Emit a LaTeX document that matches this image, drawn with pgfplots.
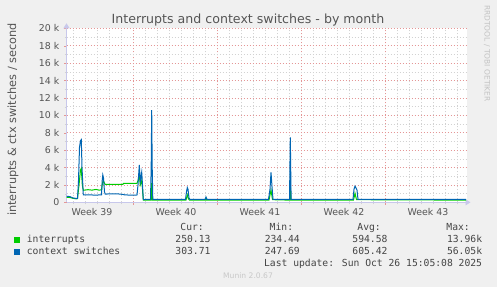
\documentclass[border=0pt]{standalone}
\usepackage{fontspec}
\setmainfont{DejaVu Sans}
\newfontfamily\monofont{DejaVu Sans Mono}
\usepackage{pgfplots}
\pgfplotsset{compat=1.18}
\usetikzlibrary{arrows.meta}
\definecolor{bgcol}{HTML}{F0F0F0}
\definecolor{txtcol}{HTML}{555555}
\definecolor{legcol}{HTML}{444444}
\definecolor{majcol}{RGB}{228,150,150}
\definecolor{mincol}{RGB}{210,210,210}
\definecolor{axiscol}{RGB}{200,200,235}
\definecolor{intcol}{HTML}{00CC00}
\definecolor{ctxcol}{HTML}{0066B3}
\begin{document}
\begin{tikzpicture}[x=1pt,y=1pt]
\fill[bgcol] (0,0) rectangle (497,287);
\useasboundingbox (0,0) rectangle (497,287);
\begin{axis}[
  at={(66.5pt,84.7pt)}, anchor=south west,
  scale only axis, width=400pt, height=174pt,
  xmin=0, xmax=33.333, ymin=0, ymax=20000,
  scaled y ticks=false,
  axis background/.style={fill=white},
  axis x line=bottom, axis y line=left,
  axis line style={draw=axiscol, line width=0.8pt},
  x axis line style={-{Triangle[length=5pt,width=6pt]}, shorten >=-4pt},
  y axis line style={-{Triangle[length=5pt,width=6pt]}, shorten >=-5pt},
  xtick={5.542,12.542,19.542,26.542},
  xticklabels={,,,},
  minor xtick={0.542,1.542,...,32.6},
  extra x ticks={2.125,9.125,16.125,23.125,30.125},
  extra x tick labels={Week 39,Week 40,Week 41,Week 42,Week 43},
  extra x tick style={grid=none, major tick length=0pt,
     xticklabel style={anchor=base, yshift=-13.5pt}},
  ytick={0,2000,...,20000},
  yticklabels={0,2 k,4 k,6 k,8 k,10 k,12 k,14 k,16 k,18 k,20 k},
  minor ytick={1000,3000,...,19000},
  grid=both,
  major grid style={draw=majcol, dash pattern=on 1pt off 2pt, line width=0.6pt},
  minor grid style={draw=mincol, dash pattern=on 1pt off 2pt, line width=0.6pt},
  tick align=outside,
  major tick length=2.5pt, minor tick length=2pt,
  every major tick/.append style={draw=majcol},
  every minor tick/.append style={draw=mincol},
  ticklabel style={font=\fontsize{9.4}{11}\selectfont, text=txtcol},
  yticklabel style={inner sep=0pt, anchor=east, xshift=-4.5pt},
  xticklabel style={inner sep=0pt},
]
\addplot[intcol, line width=1pt] coordinates {
(0,580) (0.292,550) (0.542,460) (0.792,400) (0.917,420) (1.042,2000) (1.167,3700) (1.233,3900) (1.317,2000) (1.4,1380)
(1.792,1450) (2.125,1400) (2.458,1480) (2.708,1400) (2.917,1430) (3.0,2200) (3.067,2560) (3.125,2300) (3.208,2070)
(4.708,2070) (4.75,2180) (5.875,2180) (5.958,2500) (6.067,3100) (6.15,2000) (6.267,2500) (6.333,1500) (6.4,250)
(7.042,250) (7.1,2200) (7.158,250) (9.958,250) (10.067,850) (10.167,400) (10.25,250)
(11.583,250) (11.625,450) (11.667,250) (16.875,250) (17.042,1400) (17.167,300)
(18.6,250) (18.65,2370) (18.7,250) (23.917,250) (24.042,1030) (24.167,300) (33.292,250)
};
\addplot[ctxcol, line width=1pt] coordinates {
(0,700) (0.292,650) (0.542,500) (0.792,450) (0.917,450) (1.0,2500) (1.083,6300) (1.167,7100) (1.233,7200) (1.292,4000) (1.4,850)
(1.958,850) (2.375,830) (2.917,850) (2.975,2500) (3.025,3150) (3.083,2800) (3.167,1200) (3.225,950)
(4.042,970) (4.458,950) (4.708,900) (4.875,850) (5.292,830) (5.875,840) (5.958,2000) (6.067,4300) (6.15,2400)
(6.267,3450) (6.333,2000) (6.4,320) (7.0,330) (7.058,4000) (7.1,10600) (7.142,4000) (7.192,330)
(9.917,330) (10.0,1200) (10.067,1700) (10.125,1500) (10.208,500) (10.292,330)
(11.542,330) (11.625,600) (11.708,330) (16.833,330) (16.958,1500) (17.042,3450) (17.125,1800) (17.208,330)
(18.583,330) (18.65,7450) (18.717,330) (23.875,330) (23.958,1500) (24.042,1850) (24.125,1650) (24.208,1400) (24.292,330)
(33.292,330)
};
\end{axis}
% title
\node[anchor=base, text=txtcol, font=\fontsize{12.6}{14}\selectfont, inner sep=0pt] at (248,263) {Interrupts and context switches - by month};
% y label
\node[rotate=90, anchor=base, text=txtcol, font=\fontsize{11.3}{13}\selectfont, inner sep=0pt] at (16,167.5) {interrupts \& ctx switches / second};
% watermark
\node[rotate=-90, text={rgb,255:red,195;green,195;blue,195}, font=\fontsize{7.5}{9}\selectfont, inner sep=0pt] at (487,233.5) {RRDTOOL / TOBI OETIKER};
% legend
\begin{scope}[every node/.style={inner sep=0pt, text=legcol, font=\monofont\fontsize{9.7}{11}\selectfont}]
\node[anchor=mid east] at (204,59.7) {Cur:};
\node[anchor=mid east] at (293.3,59.7) {Min:};
\node[anchor=mid east] at (381,59.7) {Avg:};
\node[anchor=mid east] at (470,59.7) {Max:};
\fill[intcol] (14,43.7) rectangle (20,49.7);
\node[anchor=mid west] at (26.7,47.7) {interrupts};
\node[anchor=mid east] at (210.7,47.7) {250.13};
\node[anchor=mid east] at (300,47.7) {234.44};
\node[anchor=mid east] at (387.7,47.7) {594.58};
\node[anchor=mid east] at (482.3,47.7) {13.96k};
\fill[ctxcol] (14,31.7) rectangle (20,37.7);
\node[anchor=mid west] at (26.7,35.3) {context switches};
\node[anchor=mid east] at (210.7,35.3) {303.71};
\node[anchor=mid east] at (300,35.3) {247.69};
\node[anchor=mid east] at (387.7,35.3) {605.42};
\node[anchor=mid east] at (482.3,35.3) {56.05k};
\node[anchor=mid east] at (482.3,23.7) {Last update: Sun Oct 26 15:05:08 2025};
\end{scope}
\node[text={rgb,255:red,200;green,200;blue,200}, font=\fontsize{7.6}{9}\selectfont, inner sep=0pt, anchor=mid] at (248,11) {Munin 2.0.67};
\end{tikzpicture}
\end{document}
